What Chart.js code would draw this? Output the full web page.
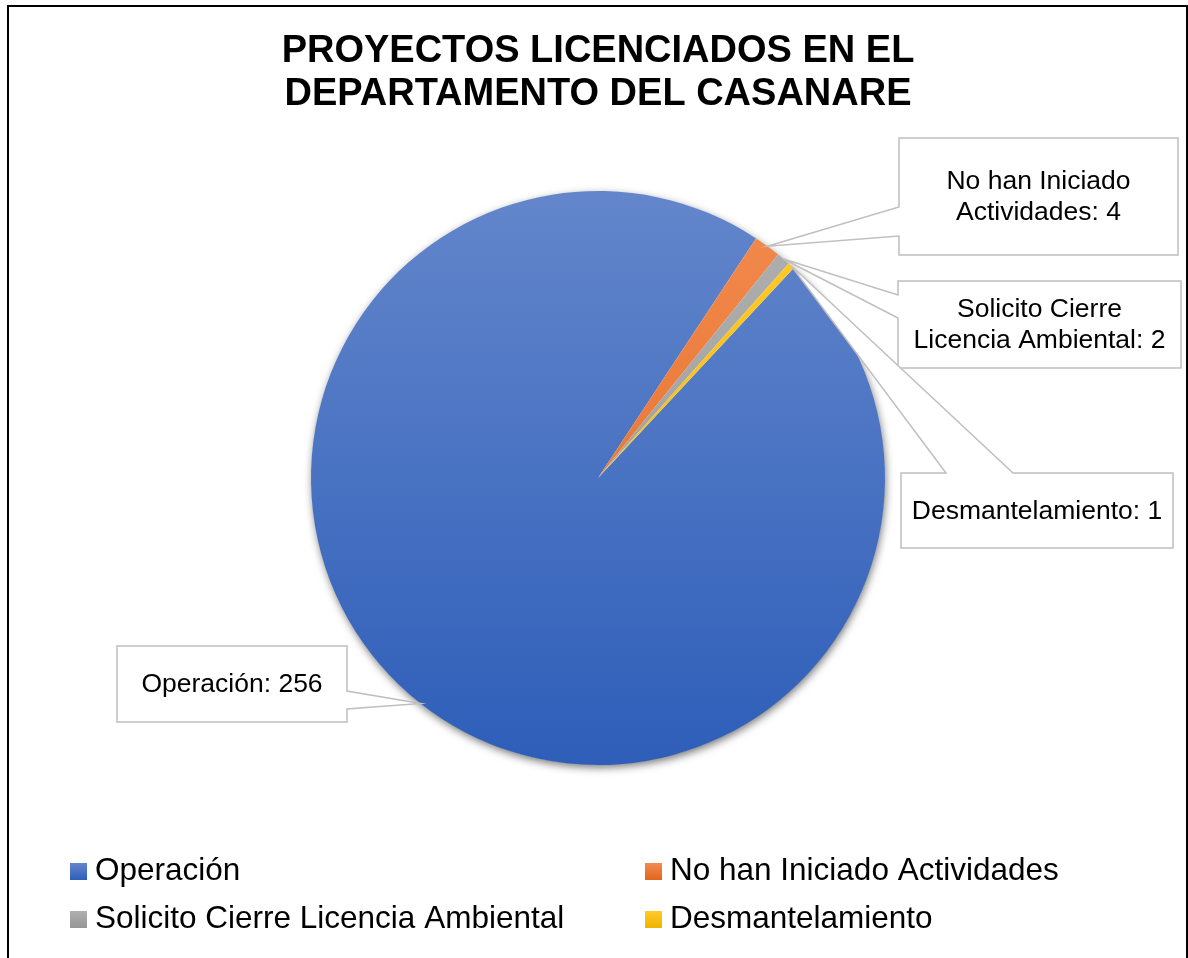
<!DOCTYPE html>
<html lang="es">
<head>
<meta charset="utf-8">
<title>Proyectos licenciados en el departamento del Casanare</title>
<script src="https://cdn.jsdelivr.net/npm/chart.js@4.4.0/dist/chart.umd.min.js"></script>
<style>
    html, body { margin: 0; padding: 0; background: #fff; }
    canvas { display: block; }
</style>
</head>
<body>
<canvas id="graficoProyectos" width="1188" height="958"></canvas>
<script>
// ========== DATOS ==========
const categorias = ['Operación', 'No han Iniciado Actividades', 'Solicito Cierre Licencia Ambiental', 'Desmantelamiento'];
const proyectos = [256, 4, 2, 1];
const tituloLineas = ['PROYECTOS LICENCIADOS EN EL', 'DEPARTAMENTO DEL CASANARE'];

// ========== ESTILO ==========
const coloresClaros = ['#6386cb', '#f28b4f', '#b0b0b0', '#ffca2c'];
const coloresOscuros = ['#2e5eb9', '#e2661c', '#959595', '#efb400'];
const FUENTE = "'Liberation Sans', Arial, sans-serif";

// cajas de las etiquetas: lado del pico, posicion del pico y ancho maximo del texto
const cajas = [
    { x: 117, y: 646, w: 230, h: 76, lado: 'derecha', p1: 45, p2: 63, ancho: 220 },
    { x: 899, y: 138, w: 279, h: 117, lado: 'izquierda', p1: 69, p2: 98, ancho: 255 },
    { x: 898, y: 281, w: 283, h: 87, lado: 'izquierda', p1: 14, p2: 37, ancho: 256 },
    { x: 901, y: 473, w: 272, h: 75, lado: 'arriba', p1: 45, p2: 112, ancho: 264 }
];

const degradado = (ctx, top, bottom, y0, y1) => {
    const g = ctx.createLinearGradient(0, y0, 0, y1);
    g.addColorStop(0, top);
    g.addColorStop(1, bottom);
    return g;
};

const partirTexto = (ctx, texto, maxAncho) => {
    const palabras = texto.split(' ');
    const lineas = [];
    let actual = '';
    palabras.forEach(p => {
        const prueba = actual ? actual + ' ' + p : p;
        if (ctx.measureText(prueba).width > maxAncho && actual) {
            lineas.push(actual);
            actual = p;
        } else {
            actual = prueba;
        }
    });
    if (actual) lineas.push(actual);
    return lineas;
};

const pluginMarco = {
    id: 'marco',
    beforeDatasetsDraw(chart) {
        const ctx = chart.ctx;
        const arc = chart.getDatasetMeta(0).data[0];
        if (!arc) return;
        // sombra exterior del pastel
        ctx.save();
        ctx.shadowColor = 'rgba(0,0,0,0.55)';
        ctx.shadowBlur = 9;
        ctx.shadowOffsetX = 1;
        ctx.shadowOffsetY = 3;
        ctx.fillStyle = '#fff';
        ctx.beginPath();
        ctx.arc(arc.x, arc.y, arc.outerRadius - 0.5, 0, Math.PI * 2);
        ctx.fill();
        ctx.restore();
    },
    afterDraw(chart) {
        const ctx = chart.ctx;
        ctx.save();

        // borde
        ctx.strokeStyle = '#000';
        ctx.lineWidth = 2;
        ctx.strokeRect(8, 6, 1179, 980);

        // titulo
        ctx.fillStyle = '#000';
        ctx.font = `bold 38px ${FUENTE}`;
        ctx.textAlign = 'center';
        ctx.textBaseline = 'middle';
        tituloLineas.forEach((linea, i) => ctx.fillText(linea, 598, 52 + i * 43));

        // etiquetas con pico
        const meta = chart.getDatasetMeta(0);
        ctx.font = `26.5px ${FUENTE}`;
        meta.data.forEach((arc, i) => {
            const c = cajas[i];
            const medio = (arc.startAngle + arc.endAngle) / 2;
            const ax = arc.x + Math.cos(medio) * arc.outerRadius;
            const ay = arc.y + Math.sin(medio) * arc.outerRadius;
            const x0 = c.x, y0 = c.y, x1 = c.x + c.w, y1 = c.y + c.h;

            ctx.beginPath();
            ctx.moveTo(x0, y0);
            if (c.lado === 'arriba') {
                ctx.lineTo(x0 + c.p1, y0);
                ctx.lineTo(ax, ay);
                ctx.lineTo(x0 + c.p2, y0);
            }
            ctx.lineTo(x1, y0);
            if (c.lado === 'derecha') {
                ctx.lineTo(x1, y0 + c.p1);
                ctx.lineTo(ax, ay);
                ctx.lineTo(x1, y0 + c.p2);
            }
            ctx.lineTo(x1, y1);
            ctx.lineTo(x0, y1);
            if (c.lado === 'izquierda') {
                ctx.lineTo(x0, y0 + c.p2);
                ctx.lineTo(ax, ay);
                ctx.lineTo(x0, y0 + c.p1);
            }
            ctx.closePath();
            ctx.fillStyle = '#fff';
            ctx.fill();
            ctx.strokeStyle = '#bfbfbf';
            ctx.lineWidth = 1.5;
            ctx.stroke();

            const lineas = partirTexto(ctx, `${categorias[i]}: ${proyectos[i]}`, c.ancho);
            ctx.fillStyle = '#000';
            const cy = (y0 + y1) / 2 + 1;
            lineas.forEach((l, j) => {
                ctx.fillText(l, (x0 + x1) / 2, cy + (j - (lineas.length - 1) / 2) * 31);
            });
        });

        // leyenda en dos columnas
        const colX = [70, 645];
        const filaY = [871, 919];
        ctx.font = `31.5px ${FUENTE}`;
        ctx.textAlign = 'left';
        categorias.forEach((nombre, i) => {
            const x = colX[i % 2];
            const y = filaY[Math.floor(i / 2)];
            ctx.fillStyle = degradado(ctx, coloresClaros[i], coloresOscuros[i], y - 8, y + 9);
            ctx.fillRect(x, y - 8, 17, 17);
            ctx.fillStyle = '#000';
            ctx.fillText(nombre, x + 25, y);
        });

        ctx.restore();
    }
};

const ctxP = document.getElementById('graficoProyectos').getContext('2d');
new Chart(ctxP, {
    type: 'pie',
    data: {
        labels: categorias,
        datasets: [{
            data: proyectos,
            backgroundColor: (c) => {
                const area = c.chart.chartArea;
                if (!area) return coloresOscuros[c.dataIndex];
                return degradado(c.chart.ctx, coloresClaros[c.dataIndex], coloresOscuros[c.dataIndex], area.top, area.bottom);
            },
            borderWidth: 0,
            hoverOffset: 0
        }]
    },
    options: {
        responsive: false,
        animation: false,
        events: [],
        rotation: 43,
        layout: { padding: { top: 191, bottom: 193, left: 311, right: 303 } },
        plugins: {
            legend: { display: false },
            tooltip: { enabled: false },
            title: { display: false }
        }
    },
    plugins: [pluginMarco]
});
</script>
</body>
</html>
